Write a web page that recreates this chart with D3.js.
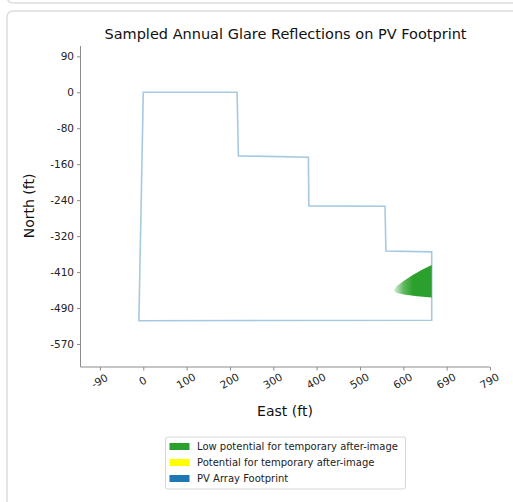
<!DOCTYPE html>
<html>
<head>
<meta charset="utf-8">
<script src="https://cdn.jsdelivr.net/npm/d3@7"></script>
<style>
html,body{margin:0;padding:0;background:#fff;}
svg{display:block;font-family:"DejaVu Sans",sans-serif;}
</style>
</head>
<body>
<svg id="chart" width="513" height="502"></svg>
<script>
// ---- data (feet) ----
const footprintEast  = [0, 213, 216, 375, 376, 549, 551, 655, 655, -10];
const footprintNorth = [0, 0, -145, -148, -259, -260, -362, -364, -520, -521];

const glareEast  = [655, 634, 612, 592, 576, 568, 576, 596, 622, 655];
const glareNorth = [-394, -404, -417, -430, -442, -452, -458, -462, -465, -468];

const xTickValues = [-98.4, 0, 98.4, 196.9, 295.3, 393.7, 492.1, 590.6, 689.0, 787.4];
const xTickLabels = ["-90", "0", "100", "200", "300", "400", "500", "600", "690", "790"];
const yTickValues = [82.0, 0, -82.0, -164.0, -246.1, -328.1, -410.1, -492.1, -574.2];
const yTickLabels = ["90", "0", "-80", "-160", "-240", "-320", "-410", "-490", "-570"];

const legendLabels = ["Low potential for temporary after-image", "Potential for temporary after-image", "PV Array Footprint"];
const legendColors = ["#2ca02c", "#ffff00", "#1f77b4"];

// ---- layout ----
const svg = d3.select("#chart");
const plot = {left: 80.5, right: 490, top: 46, bottom: 367};

const x = d3.scaleLinear().domain([-142.6, 787.4]).range([plot.left, plot.right]);
const y = d3.scaleLinear().domain([105.6, -626.6]).range([plot.top, plot.bottom]);

// cards
svg.append("rect").attr("x", 7).attr("y", -40).attr("width", 540).attr("height", 43)
  .attr("rx", 6).attr("fill", "#fff").attr("stroke", "#dcdcdc").attr("stroke-width", 1.5);
svg.append("rect").attr("x", 7).attr("y", 11).attr("width", 540).attr("height", 540)
  .attr("rx", 6).attr("fill", "#fff").attr("stroke", "#dcdcdc").attr("stroke-width", 1.5);

// title
svg.append("text").attr("x", 285.5).attr("y", 39).attr("text-anchor", "middle")
  .attr("font-size", 14.5).attr("fill", "#111")
  .text("Sampled Annual Glare Reflections on PV Footprint");

// glare fill with fade
const defs = svg.append("defs");
const grad = defs.append("linearGradient").attr("id", "fade")
  .attr("gradientUnits", "userSpaceOnUse")
  .attr("x1", x(566)).attr("x2", x(612)).attr("y1", 0).attr("y2", 0);
grad.append("stop").attr("offset", 0).attr("stop-color", "#2ca02c").attr("stop-opacity", 0.1);
grad.append("stop").attr("offset", 0.55).attr("stop-color", "#2ca02c").attr("stop-opacity", 0.75);
grad.append("stop").attr("offset", 1).attr("stop-color", "#2ca02c").attr("stop-opacity", 1);

const glarePts = glareEast.map((e, i) => [x(e), y(glareNorth[i])]);
svg.append("path").attr("d", d3.line().curve(d3.curveLinearClosed)(glarePts))
  .attr("fill", "url(#fade)");

// footprint outline
const fpPts = footprintEast.map((e, i) => [x(e), y(footprintNorth[i])]);
svg.append("path").attr("d", d3.line().curve(d3.curveLinearClosed)(fpPts))
  .attr("fill", "none").attr("stroke", "#1f77b4").attr("stroke-opacity", 0.4)
  .attr("stroke-width", 1.6).attr("stroke-linejoin", "miter");

// axes
const spineColor = "#8c8c8c";
const xAxis = d3.axisBottom(x).tickValues(xTickValues)
  .tickFormat((d, i) => xTickLabels[i]).tickSize(3.5).tickSizeOuter(0);
const gx = svg.append("g").attr("transform", `translate(0,${plot.bottom})`).call(xAxis);
gx.select(".domain").attr("stroke", spineColor).attr("d", `M${plot.left},0H${plot.right}`);
gx.selectAll(".tick line").attr("stroke", spineColor);
gx.selectAll(".tick text")
  .attr("font-size", 10.5).attr("fill", "#222").attr("font-family", "DejaVu Sans")
  .attr("text-anchor", "middle").attr("dy", "0.35em")
  .attr("y", 0)
  .attr("transform", "translate(-1,14) rotate(-30)");

const yAxis = d3.axisLeft(y).tickValues(yTickValues)
  .tickFormat((d, i) => yTickLabels[i]).tickSize(3.5).tickSizeOuter(0);
const gy = svg.append("g").attr("transform", `translate(${plot.left},0)`).call(yAxis);
gy.select(".domain").attr("stroke", spineColor).attr("d", `M0,${plot.top}V${plot.bottom}`);
gy.selectAll(".tick line").attr("stroke", spineColor);
gy.selectAll(".tick text").attr("font-size", 10.5).attr("fill", "#222")
  .attr("font-family", "DejaVu Sans").attr("x", -6.5);

// axis labels
svg.append("text").attr("x", 285).attr("y", 416).attr("text-anchor", "middle")
  .attr("font-size", 14).attr("fill", "#111").text("East (ft)");
svg.append("text").attr("transform", `translate(34,206) rotate(-90)`).attr("text-anchor", "middle")
  .attr("font-size", 14).attr("fill", "#111").text("North (ft)");

// legend
const lg = svg.append("g").attr("transform", "translate(165.5,437)");
lg.append("rect").attr("width", 240).attr("height", 52).attr("rx", 2)
  .attr("fill", "#fff").attr("stroke", "#d6d6d6").attr("stroke-width", 1);
legendLabels.forEach((lab, i) => {
  const row = lg.append("g").attr("transform", `translate(0,${9.5 + i * 16})`);
  row.append("rect").attr("x", 4).attr("y", -3.5).attr("width", 20).attr("height", 7)
    .attr("fill", legendColors[i]);
  row.append("text").attr("x", 31.5).attr("y", 0).attr("dy", "0.35em")
    .attr("font-size", 10).attr("fill", "#222").text(lab);
});
</script>
</body>
</html>
